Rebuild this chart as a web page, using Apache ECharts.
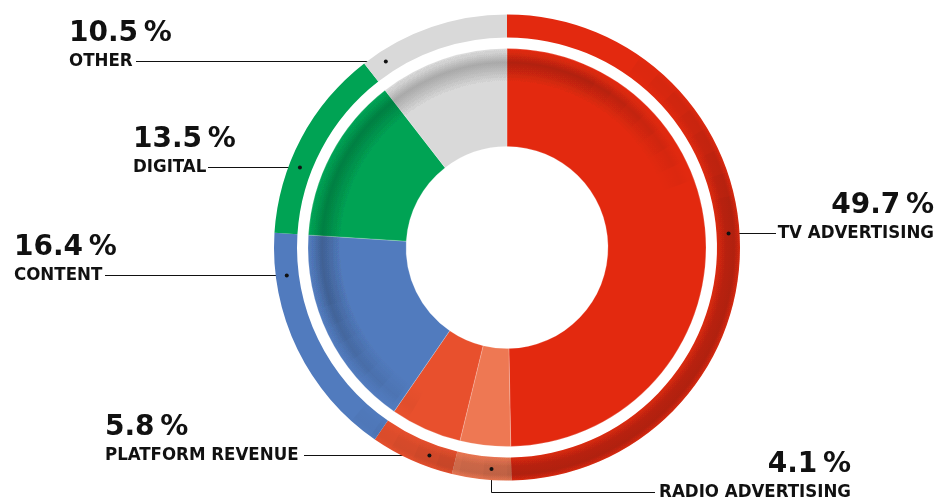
<!DOCTYPE html>
<html>
<head>
<meta charset="utf-8">
<script src="https://cdn.jsdelivr.net/npm/echarts@6/dist/echarts.min.js"></script>
<style>
  html, body { margin: 0; padding: 0; background: #ffffff; }
  #revenue-chart { width: 935px; height: 502px; }
</style>
</head>
<body>
<div id="revenue-chart"></div>
<script>
// Revenue mix, clockwise from 12 o'clock
const categories = ['TV ADVERTISING', 'RADIO ADVERTISING', 'PLATFORM REVENUE', 'CONTENT', 'DIGITAL', 'OTHER'];
const shares = [49.7, 4.1, 5.8, 16.4, 13.5, 10.5];

const SLICE_COLORS = ['#e3290f', '#ee7853', '#e8502d', '#517bbe', '#00a354', '#d9d9d9'];
const CENTER_X = 507;
const CENTER_Y = 247.5;
const RING_MID = 222;

// where each callout sits (text anchor, y of the leader line, end of the leader line)
const callouts = [
    {x: 934, align: 'right', lineY: 233.5, lineEnd: 776},
    {x: 851, align: 'right', lineY: 492.5, lineEnd: 655, dropX: 491.5},
    {x: 105, align: 'left', lineY: 455.5, lineEnd: 304},
    {x: 14, align: 'left', lineY: 275.5, lineEnd: 105},
    {x: 133, align: 'left', lineY: 167.5, lineEnd: 208},
    {x: 69, align: 'left', lineY: 61.5, lineEnd: 136}
];

function ring_dot(c) {
    if (c.dropX !== undefined) {
        let dx = c.dropX - CENTER_X;
        return [c.dropX, CENTER_Y + Math.sqrt(RING_MID * RING_MID - dx * dx)];
    }
    let dy = c.lineY - CENTER_Y;
    let sign = c.align === 'right' ? 1 : -1;
    return [CENTER_X + sign * Math.sqrt(RING_MID * RING_MID - dy * dy), c.lineY];
}

// Stacked, partly transparent arcs so the shading fades in and out along the ring.
function shade_layers(cw_from, cw_to, radius, band, peak_alpha, steps, fade) {
    let layers = [];
    for (let k = 0; k < steps; k++) {
        let from = cw_from + k * fade;
        let span = (cw_to - k * fade) - from;
        let a = peak_alpha / steps;
        layers.push({
            type: 'pie',
            center: [CENTER_X, CENTER_Y],
            radius: radius,
            startAngle: 90 - from,
            silent: true,
            label: {show: false},
            labelLine: {show: false},
            data: [
                {
                    value: span,
                    itemStyle: {
                        color: {
                            type: 'radial', x: CENTER_X, y: CENTER_Y, r: radius[1], global: true,
                            colorStops: band.map(function (s) {
                                return {offset: s[0], color: 'rgba(0,0,0,' + (s[1] * a).toFixed(4) + ')'};
                            })
                        }
                    }
                },
                {value: 360 - span, itemStyle: {color: 'rgba(0,0,0,0)'}}
            ]
        });
    }
    return layers;
}

let slice_data = categories.map(function (name, i) {
    return {name: name, value: shares[i], itemStyle: {color: SLICE_COLORS[i]}};
});

let revenue_chart = echarts.init(document.getElementById('revenue-chart'));

let donut_series = [
    {
        // thick inner donut
        type: 'pie',
        center: [CENTER_X, CENTER_Y],
        radius: [101, 199],
        startAngle: 90,
        silent: true,
        label: {show: false},
        labelLine: {show: false},
        itemStyle: {borderColor: 'rgba(255,255,255,0.35)', borderWidth: 0.6},
        data: slice_data
    },
    {
        // thin outer ring carrying the callouts
        type: 'pie',
        center: [CENTER_X, CENTER_Y],
        radius: [210, 233],
        startAngle: 90,
        avoidLabelOverlap: false,
        label: {
            show: true,
            position: 'outside',
            formatter: function (p) {
                return '{p|' + p.value.toFixed(1) + '\u2009%}\n{n|' + p.name + '}';
            },
            rich: {
                p: {
                    fontFamily: 'DejaVu Sans',
                    fontWeight: 'bold',
                    fontSize: 28,
                    lineHeight: 32,
                    color: '#111111'
                },
                n: {
                    fontFamily: '"DejaVu Sans Condensed", "Liberation Sans", sans-serif',
                    fontWeight: 'bold',
                    fontSize: 18.5,
                    lineHeight: 24,
                    color: '#111111'
                }
            }
        },
        labelLine: {
            show: true,
            length: 5,
            length2: 5,
            smooth: false,
            lineStyle: {color: '#111111', width: 1}
        },
        labelLayout: function (params) {
            let c = callouts[params.dataIndex];
            let dot = ring_dot(c);
            let points = c.dropX !== undefined
                ? [dot, [dot[0], c.lineY], [c.lineEnd, c.lineY]]
                : [dot, [c.lineEnd, c.lineY]];
            return {
                x: c.x,
                y: c.lineY - 44,
                align: c.align,
                verticalAlign: 'top',
                labelLinePoints: points
            };
        },
        data: slice_data
    }
];

// shadow just inside the white gap, upper-left half of the thick donut
let inner_shade = shade_layers(210, 430, [150, 199],
    [[0, 0], [0.83, 0], [0.93, 1], [0.975, 0.2], [1, 0]], 0.24, 8, 6);

// shadow on the outer ring, lower-right half
let outer_shade = shade_layers(35, 222, [210, 233],
    [[0, 0], [0.9, 0.15], [0.94, 0.9], [0.975, 1], [1, 0.3]], 0.26, 8, 6);

let revenue_options = {
    animation: false,
    backgroundColor: '#ffffff',
    series: [donut_series[0]].concat(inner_shade, [donut_series[1]], outer_shade),
    graphic: callouts.map(function (c) {
        let dot = ring_dot(c);
        return {
            type: 'circle',
            silent: true,
            z: 100,
            shape: {cx: dot[0], cy: dot[1], r: 2},
            style: {fill: '#111111'}
        };
    })
};

revenue_chart.setOption(revenue_options);

window.addEventListener('resize', function () {
    revenue_chart.resize();
});
</script>
</body>
</html>
